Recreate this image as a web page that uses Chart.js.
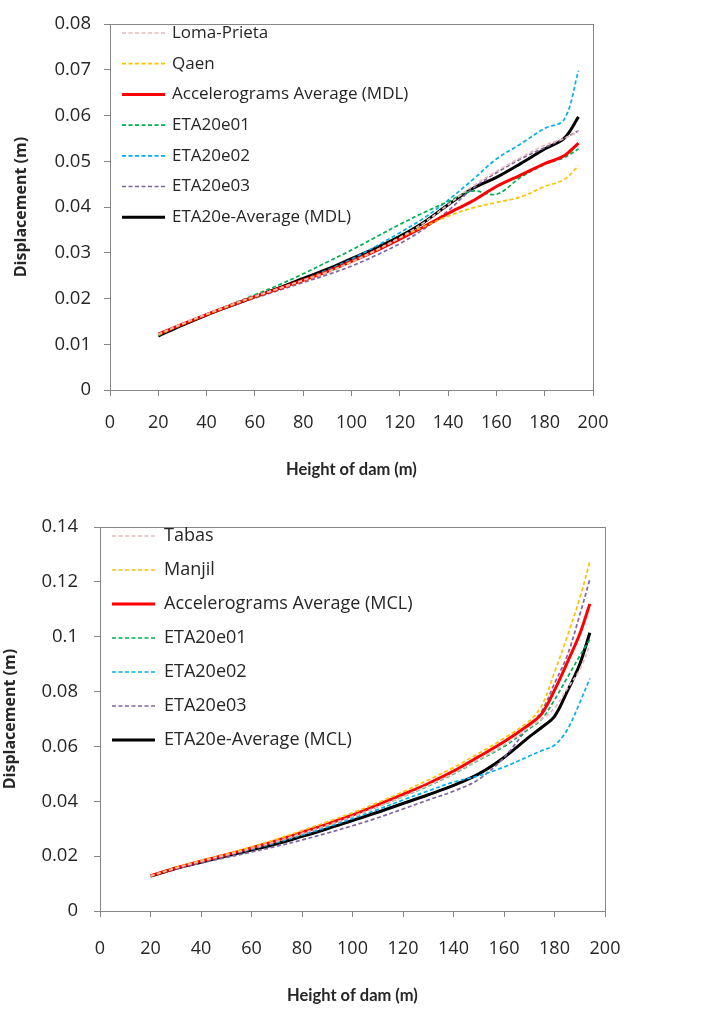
<!DOCTYPE html>
<html>
<head>
<meta charset="utf-8">
<script src="https://cdn.jsdelivr.net/npm/chart.js@4.4.1/dist/chart.umd.min.js"></script>
<style>
  html, body { margin: 0; padding: 0; background: #fff; }
  #wrap1 { position: absolute; left: 0; top: 0; width: 715px; height: 500px; }
  #wrap2 { position: absolute; left: 0; top: 500px; width: 715px; height: 509px; }
</style>
</head>
<body>
<div id="wrap1"><canvas id="c1" width="715" height="500"></canvas></div>
<div id="wrap2"><canvas id="c2" width="715" height="509"></canvas></div>
<script>
// ---------- DATA (top chart: MDL) ----------
const heightsTop = [20, 30, 40, 50, 60, 70, 80, 90, 100, 110, 120, 130, 140, 150, 160, 170, 180, 188, 194];
const lomaPrieta = [0.0122, 0.0145, 0.0166, 0.0186, 0.0205, 0.0222, 0.0240, 0.0258, 0.0280, 0.0305, 0.0333, 0.0366, 0.0405, 0.0445, 0.0478, 0.0508, 0.0535, 0.0550, 0.0565];
const qaen       = [0.0121, 0.0144, 0.0165, 0.0185, 0.0204, 0.0222, 0.0240, 0.0258, 0.0280, 0.0305, 0.0333, 0.0357, 0.0380, 0.0398, 0.0410, 0.0422, 0.0445, 0.0460, 0.0490];
const accAvgMDL  = [0.0122, 0.0144, 0.0165, 0.0185, 0.0204, 0.0222, 0.0240, 0.0259, 0.0281, 0.0304, 0.0330, 0.0357, 0.0386, 0.0413, 0.0445, 0.0470, 0.0495, 0.0512, 0.0540];
const e01Top     = [0.0120, 0.0144, 0.0166, 0.0187, 0.0208, 0.0230, 0.0254, 0.0280, 0.0306, 0.0334, 0.0362, 0.0388, 0.0412, 0.0435, 0.0428, 0.0465, 0.0493, 0.0508, 0.0527];
const e02Top     = [0.0120, 0.0143, 0.0165, 0.0185, 0.0204, 0.0222, 0.0241, 0.0262, 0.0286, 0.0314, 0.0344, 0.0376, 0.0415, 0.0459, 0.0505, 0.0538, 0.0572, 0.0591, 0.0698];
const e03Top     = [0.0120, 0.0143, 0.0164, 0.0183, 0.0201, 0.0218, 0.0235, 0.0252, 0.0271, 0.0294, 0.0320, 0.0352, 0.0392, 0.0440, 0.0475, 0.0505, 0.0530, 0.0550, 0.0567];
const etaAvgMDL  = [0.0118, 0.0142, 0.0164, 0.0184, 0.0204, 0.0223, 0.0244, 0.0264, 0.0287, 0.0310, 0.0336, 0.0367, 0.0405, 0.0440, 0.0465, 0.0495, 0.0527, 0.0550, 0.0597];
const yTicksTop  = ['0', '0.01', '0.02', '0.03', '0.04', '0.05', '0.06', '0.07', '0.08'];

// ---------- DATA (bottom chart: MCL) ----------
const heightsBot = [20, 30, 40, 50, 60, 70, 80, 90, 100, 110, 120, 130, 140, 150, 160, 170, 175, 180, 185, 190, 194];
const tabas     = [0.0128, 0.0156, 0.0181, 0.0204, 0.0228, 0.0254, 0.0283, 0.0313, 0.0345, 0.0380, 0.0418, 0.0458, 0.0502, 0.0552, 0.0605, 0.0670, 0.0700, 0.0740, 0.0810, 0.0880, 0.0970];
const manjil    = [0.0128, 0.0158, 0.0184, 0.0208, 0.0234, 0.0262, 0.0293, 0.0325, 0.0358, 0.0395, 0.0435, 0.0478, 0.0523, 0.0575, 0.0630, 0.0693, 0.0750, 0.0870, 0.1000, 0.1140, 0.1275];
const accAvgMCL = [0.0128, 0.0157, 0.0182, 0.0205, 0.0230, 0.0257, 0.0287, 0.0317, 0.0350, 0.0387, 0.0425, 0.0465, 0.0510, 0.0563, 0.0617, 0.0680, 0.0720, 0.0805, 0.0905, 0.1010, 0.1120];
const e01Bot    = [0.0127, 0.0156, 0.0181, 0.0204, 0.0228, 0.0254, 0.0283, 0.0313, 0.0345, 0.0380, 0.0417, 0.0456, 0.0500, 0.0550, 0.0600, 0.0665, 0.0700, 0.0770, 0.0850, 0.0930, 0.0990];
const e02Bot    = [0.0127, 0.0155, 0.0179, 0.0202, 0.0225, 0.0250, 0.0277, 0.0306, 0.0337, 0.0370, 0.0405, 0.0438, 0.0470, 0.0493, 0.0525, 0.0565, 0.0585, 0.0605, 0.0660, 0.0760, 0.0848];
const e03Bot    = [0.0126, 0.0153, 0.0175, 0.0195, 0.0215, 0.0236, 0.0259, 0.0284, 0.0311, 0.0340, 0.0372, 0.0405, 0.0437, 0.0480, 0.0560, 0.0675, 0.0730, 0.0830, 0.0930, 0.1080, 0.1210];
const etaAvgMCL = [0.0127, 0.0155, 0.0178, 0.0200, 0.0222, 0.0245, 0.0272, 0.0300, 0.0330, 0.0360, 0.0392, 0.0424, 0.0458, 0.0500, 0.0560, 0.0635, 0.0670, 0.0710, 0.0800, 0.0900, 0.1015];
const yTicksBot = ['0', '0.02', '0.04', '0.06', '0.08', '0.1', '0.12', '0.14'];

const xTickLabels = ['0', '20', '40', '60', '80', '100', '120', '140', '160', '180', '200'];

// ---------- STYLE ----------
const FONT = "'Open Sans', 'DejaVu Sans', sans-serif";
const XTITLE_FONT = "Lato, 'Open Sans', sans-serif";
const AXIS_GRAY = '#868686';
const TEXT = '#262626';

function pts(xs, ys) { return xs.map((x, i) => ({ x: x, y: ys[i] })); }

function ds(label, xs, ys, color, dashed) {
  return {
    label: label,
    data: pts(xs, ys),
    borderColor: color,
    backgroundColor: color,
    borderWidth: dashed ? 1.7 : 3,
    borderDash: dashed ? [4, 2.5] : [],
    pointRadius: 0,
    tension: 0.35,
    fill: false
  };
}

const boxPlugin = {
  id: 'plotBox',
  beforeDatasetsDraw(chart) {
    const a = chart.chartArea, ctx = chart.ctx;
    ctx.save();
    ctx.strokeStyle = AXIS_GRAY;
    ctx.lineWidth = 1;
    ctx.strokeRect(Math.round(a.left) + 0.5, Math.round(a.top) + 0.5, Math.round(a.right - a.left), Math.round(a.bottom - a.top));
    ctx.restore();
  }
};

const legendPlugin = {
  id: 'insideLegend',
  afterDatasetsDraw(chart, args, o) {
    const ctx = chart.ctx;
    ctx.save();
    ctx.font = o.fontSize + 'px ' + FONT;
    ctx.textBaseline = 'middle';
    ctx.fillStyle = TEXT;
    chart.data.datasets.forEach((d, i) => {
      const y = o.y0 + i * o.dy;
      ctx.beginPath();
      ctx.strokeStyle = d.borderColor;
      ctx.lineWidth = d.borderWidth;
      ctx.setLineDash(d.borderDash);
      ctx.moveTo(o.x0, y);
      ctx.lineTo(o.x1, y);
      ctx.stroke();
      ctx.setLineDash([]);
      ctx.fillText(d.label, o.tx, y);
    });
    ctx.restore();
  }
};

function makeChart(id, cfg) {
  return new Chart(document.getElementById(id), {
    type: 'line',
    data: { datasets: cfg.datasets },
    plugins: [boxPlugin, legendPlugin],
    options: {
      responsive: false,
      animation: false,
      layout: { padding: cfg.padding },
      plugins: {
        legend: { display: false },
        tooltip: { enabled: false },
        insideLegend: cfg.legend
      },
      scales: {
        x: {
          type: 'linear', min: 0, max: 200,
          ticks: {
            stepSize: 20, color: TEXT, padding: cfg.xTickPad,
            font: { family: FONT, size: 18 },
            maxRotation: 0,
            callback: (v, i) => xTickLabels[i]
          },
          grid: { drawOnChartArea: false, drawTicks: true, tickLength: 6, color: AXIS_GRAY, tickColor: AXIS_GRAY },
          border: { display: true, color: AXIS_GRAY },
          title: { display: true, text: 'Height of dam (m)', color: TEXT, font: { family: XTITLE_FONT, size: 16.5, weight: 'bold' }, padding: { top: 0, bottom: cfg.xTitlePad } },
          afterFit: s => { s.height = cfg.xHeight; }
        },
        y: {
          type: 'linear', min: 0, max: cfg.yMax,
          ticks: {
            stepSize: cfg.yStep, color: TEXT, padding: cfg.yTickPad,
            font: { family: FONT, size: 18.5 },
            callback: (v, i) => cfg.yLabels[i]
          },
          grid: { drawOnChartArea: false, drawTicks: true, tickLength: 6, color: AXIS_GRAY, tickColor: AXIS_GRAY },
          border: { display: true, color: AXIS_GRAY },
          title: { display: true, text: 'Displacement (m)', color: TEXT, font: { family: FONT, size: 16, weight: 'bold' }, padding: { top: cfg.yTitlePad, bottom: 0 } },
          afterFit: s => { s.width = cfg.yWidth; }
        }
      }
    }
  });
}

makeChart('c1', {
  datasets: [
    ds('Loma-Prieta', heightsTop, lomaPrieta, '#e6b9b8', true),
    ds('Qaen', heightsTop, qaen, '#ffc000', true),
    ds('Accelerograms Average (MDL)', heightsTop, accAvgMDL, '#ff0000', false),
    ds('ETA20e01', heightsTop, e01Top, '#00b050', true),
    ds('ETA20e02', heightsTop, e02Top, '#00b0f0', true),
    ds('ETA20e03', heightsTop, e03Top, '#8064a2', true),
    ds('ETA20e-Average (MDL)', heightsTop, etaAvgMDL, '#000000', false)
  ],
  padding: { left: 0, top: 15, right: 122, bottom: 10 },
  yWidth: 110, xHeight: 100,
  yMax: 0.08, yStep: 0.01, yLabels: yTicksTop,
  xTickPad: 16, yTickPad: 13, xTitlePad: 10, yTitlePad: 12,
  legend: { x0: 122, x1: 165, tx: 172, y0: 33, dy: 30.7, fontSize: 17 }
});

makeChart('c2', {
  datasets: [
    ds('Tabas', heightsBot, tabas, '#e6b9b8', true),
    ds('Manjil', heightsBot, manjil, '#ffc000', true),
    ds('Accelerograms Average (MCL)', heightsBot, accAvgMCL, '#ff0000', false),
    ds('ETA20e01', heightsBot, e01Bot, '#00b050', true),
    ds('ETA20e02', heightsBot, e02Bot, '#00b0f0', true),
    ds('ETA20e03', heightsBot, e03Bot, '#8064a2', true),
    ds('ETA20e-Average (MCL)', heightsBot, etaAvgMCL, '#000000', false)
  ],
  padding: { left: 0, top: 16, right: 110, bottom: 0 },
  yWidth: 100, xHeight: 98,
  yMax: 0.14, yStep: 0.02, yLabels: yTicksBot,
  xTickPad: 21, yTickPad: 16, xTitlePad: 3, yTitlePad: 1,
  legend: { x0: 112, x1: 155, tx: 164, y0: 36, dy: 34, fontSize: 18 }
});
</script>
</body>
</html>
